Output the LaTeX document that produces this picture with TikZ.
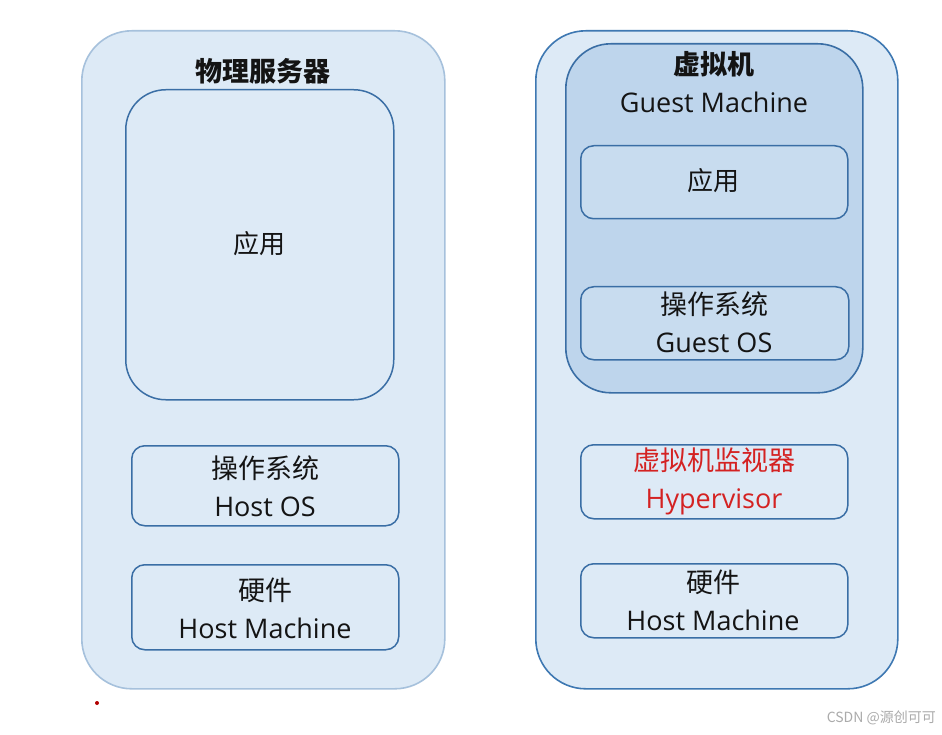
\documentclass[tikz,border=0pt]{standalone}
\usepackage{fontspec}
\setmainfont{Open Sans}
\newfontfamily\cjk{Noto Sans CJK SC}
\definecolor{outerfill}{HTML}{DDEAF6}
\definecolor{outerlight}{HTML}{A6C1DC}
\definecolor{outerdark}{HTML}{3E78B2}
\definecolor{guestfill}{HTML}{BED5EC}
\definecolor{innerfill}{HTML}{C8DCEF}
\definecolor{boxline}{HTML}{3A6EA5}
\definecolor{txt}{HTML}{141414}
\definecolor{redtxt}{HTML}{D42222}
\definecolor{wm}{HTML}{ABABAB}
\tikzset{
  container/.style={draw, line width=1.6pt, fill=outerfill, rounded corners=50pt, anchor=north west, inner sep=0pt},
  guestbox/.style={draw=boxline, line width=1.6pt, fill=guestfill, rounded corners=45pt, anchor=north west, inner sep=0pt},
  layer/.style={draw=boxline, line width=1.5pt, fill=outerfill, rounded corners=13pt, anchor=north west, inner sep=0pt},
  glayer/.style={layer, fill=innerfill},
  lbl/.style={text=txt, align=center, font=\fontsize{27}{38}\selectfont, inner sep=0pt},
}
\begin{document}
\begin{tikzpicture}[x=1pt,y=-1pt]
\useasboundingbox[fill=white] (0,0) rectangle (942,735);
% left: physical server
\node[container, draw=outerlight, minimum width=363pt, minimum height=658pt] (phys) at (81,30) {};
\node[lbl, font=\cjk\bfseries\fontsize{27}{30}\selectfont] (physt) at (263,71) {物理服务器};
\node[layer, rounded corners=40pt, minimum width=268pt, minimum height=310pt] (app1) at (125,89) {};
\node[lbl, font=\cjk\fontsize{26}{30}\selectfont] (app1t) at (259,244) {应用};
\node[layer, minimum width=267pt, minimum height=80pt] (os1) at (131,445) {};
\node[lbl] (os1t) at (265,486) {{\cjk 操作系统}\\Host OS};
\node[layer, minimum width=267pt, minimum height=85pt] (hw1) at (131,564) {};
\node[lbl] (hw1t) at (265,608) {{\cjk 硬件}\\Host Machine};
% right: virtual machine
\node[container, draw=outerdark, minimum width=362pt, minimum height=658pt] (virt) at (535,30) {};
\node[guestbox, minimum width=297pt, minimum height=349pt] (guest) at (565,43) {};
\node[lbl] (guestt) at (714,82) {{\cjk\bfseries 虚拟机}\\Guest Machine};
\node[glayer, minimum width=267pt, minimum height=73pt] (app2) at (580,145) {};
\node[lbl, font=\cjk\fontsize{26}{30}\selectfont] (app2t) at (713,181) {应用};
\node[glayer, minimum width=268pt, minimum height=73pt] (os2) at (580,286) {};
\node[lbl] (os2t) at (714,322) {{\cjk 操作系统}\\Guest OS};
\node[layer, minimum width=267pt, minimum height=74pt] (hyp) at (580,444) {};
\node[lbl, text=redtxt] (hypt) at (714,481) {{\cjk 虚拟机监视器}\\Hypervisor};
\node[layer, minimum width=267pt, minimum height=74pt] (hw2) at (580,563) {};
\node[lbl] (hw2t) at (713,600) {{\cjk 硬件}\\Host Machine};
% small mark and watermark
\node[circle, fill=red!70!black, inner sep=0pt, minimum size=4pt] (dot) at (97,703) {};
\node[text=wm, font=\cjk\fontsize{14}{16}\selectfont, anchor=east, inner sep=0pt] (wmk) at (936,718) {CSDN @源创可可};
\end{tikzpicture}
\end{document}
